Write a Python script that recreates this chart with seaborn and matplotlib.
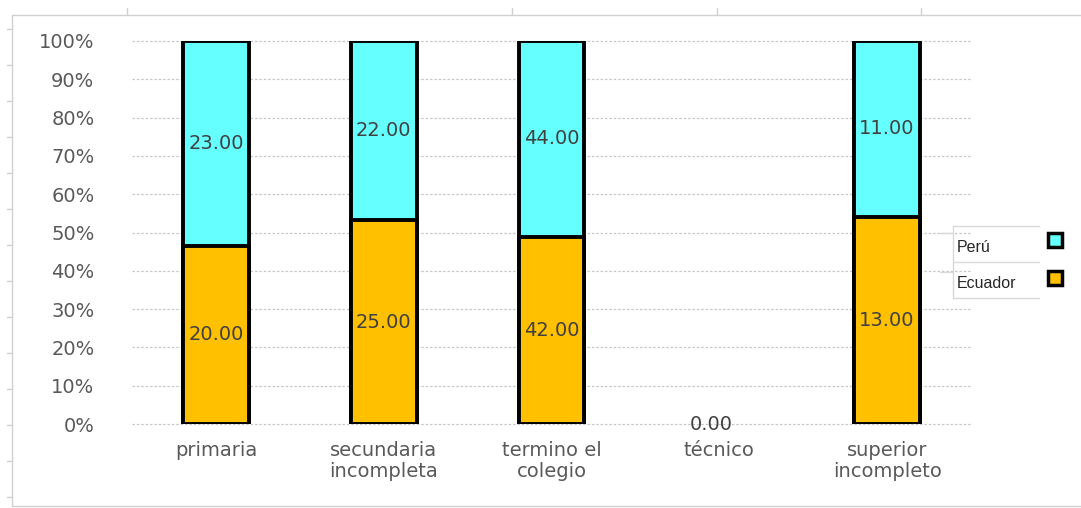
import numpy as np
import pandas as pd
import matplotlib
matplotlib.use("Agg")
import matplotlib.pyplot as plt
from matplotlib.patches import Rectangle
from matplotlib.lines import Line2D
import seaborn as sns

# Data
categories = ["primaria", "secundaria\nincompleta", "termino el\ncolegio", "técnico", "superior\nincompleto"]
ecuador = [20, 25, 42, 0, 13]
peru = [23, 22, 44, 0, 11]
series_names = ["Perú", "Ecuador"]

COLOR_PERU = "#66FFFF"
COLOR_ECU = "#FFC000"
TEXT_GRAY = "#595959"
LABEL_GRAY = "#404040"

totals = np.array(ecuador, dtype=float) + np.array(peru, dtype=float)
share_total = np.where(totals > 0, 1.0, 0.0)
share_ecu = np.divide(ecuador, totals, out=np.zeros_like(totals), where=totals > 0)

df = pd.DataFrame({"cat": categories, "total": share_total, "ecu": share_ecu})

sns.set_theme(style="white")
plt.rcParams["font.family"] = ["DejaVu Sans"]

W, H = 1081, 508
fig = plt.figure(figsize=(W / 100, H / 100), dpi=100)
ax = fig.add_axes([132 / W, 1 - 424 / H, (971 - 132) / W, (424 - 41) / H])

# Gridlines behind bars
ax.set_axisbelow(True)
ax.yaxis.grid(True, color="#C8C8C8", linestyle=(0, (2, 1.5)), linewidth=0.9)
ax.xaxis.grid(False)

bw = 66 / 168
sns.barplot(data=df, x="cat", y="total", color=COLOR_PERU, saturation=1,
            width=bw, edgecolor="black", linewidth=2.8, ax=ax, zorder=2)
n_peru = len(ax.patches)
sns.barplot(data=df, x="cat", y="ecu", color=COLOR_ECU, saturation=1,
            width=bw, edgecolor="black", linewidth=2.8, ax=ax, zorder=3)

peru_bars = ax.patches[:n_peru]
ecu_bars = ax.patches[n_peru:]
for p in list(peru_bars) + list(ecu_bars):
    if p.get_height() <= 0:
        p.set_visible(False)

# Value labels centred in each segment
lab_kw = dict(ha="center", va="center", fontsize=14, color=LABEL_GRAY, zorder=5)
for i, (pb, eb) in enumerate(zip(peru_bars, ecu_bars)):
    x = pb.get_x() + pb.get_width() / 2
    if totals[i] > 0:
        e = share_ecu[i]
        ax.text(x, e / 2, f"{ecuador[i]:.2f}", **lab_kw)
        ax.text(x, e + (1 - e) / 2, f"{peru[i]:.2f}", **lab_kw)
    else:
        ax.text(x - 0.05, 0.0, f"{ecuador[i]:.2f}", **lab_kw)

ax.set_ylim(0, 1)
ax.set_xlim(-0.5, len(categories) - 0.5)
ax.set_yticks(np.linspace(0, 1, 11))
ax.set_yticklabels([f"{int(v)}%" for v in np.linspace(0, 100, 11)])
ax.tick_params(axis="y", colors=TEXT_GRAY, labelsize=14, length=0, pad=27)
ax.tick_params(axis="x", colors=TEXT_GRAY, labelsize=14, length=0, pad=12)
for t in ax.get_xticklabels():
    t.set_linespacing(1.15)
for gl in ax.get_ygridlines():
    gl.set_clip_on(False)
ax.set_xlabel("")
ax.set_ylabel("")
for s in ax.spines.values():
    s.set_visible(False)


def fline(xs, ys, **kw):
    fig.add_artist(Line2D([x / W for x in xs], [1 - y / H for y in ys],
                          transform=fig.transFigure, **kw))


# Legend: names on the left, swatches on the right
leg_font = ["Liberation Sans Narrow", "Liberation Sans", "DejaVu Sans"]
leg_colors = [COLOR_PERU, COLOR_ECU]
for name, col, ty, my in zip(series_names, leg_colors, (247, 284), (240, 278)):
    fig.text(957 / W, 1 - ty / H, name, ha="left", va="center",
             fontsize=11.5, color="#262626", family=leg_font)
    fig.add_artist(Rectangle(((1055 - 7) / W, 1 - (my + 7) / H), 14 / W, 14 / H,
                             transform=fig.transFigure, facecolor=col,
                             edgecolor="black", linewidth=2.5))

lg = dict(color="#D9D9D9", linewidth=1)
for y in (226, 262, 298):
    fline([953, 1039], [y, y], **lg)
fline([953, 953], [226, 298], **lg)
for y in (233, 272):
    fline([940, 953], [y, y], **lg)

# Outer chart frame with tick marks
fr = dict(color="#D0D0D0", linewidth=1)
fline([12, 12], [15, 506], **fr)
fline([12, 1081], [15, 15], **fr)
fline([12, 1081], [506, 506], **fr)
for y in np.arange(29, 500, 36):
    fline([7, 12], [y, y], **fr)
for x in (127, 512, 717, 921):
    fline([x, x], [8, 15], **fr)

fig.savefig("out.png", dpi=100, facecolor="white")
